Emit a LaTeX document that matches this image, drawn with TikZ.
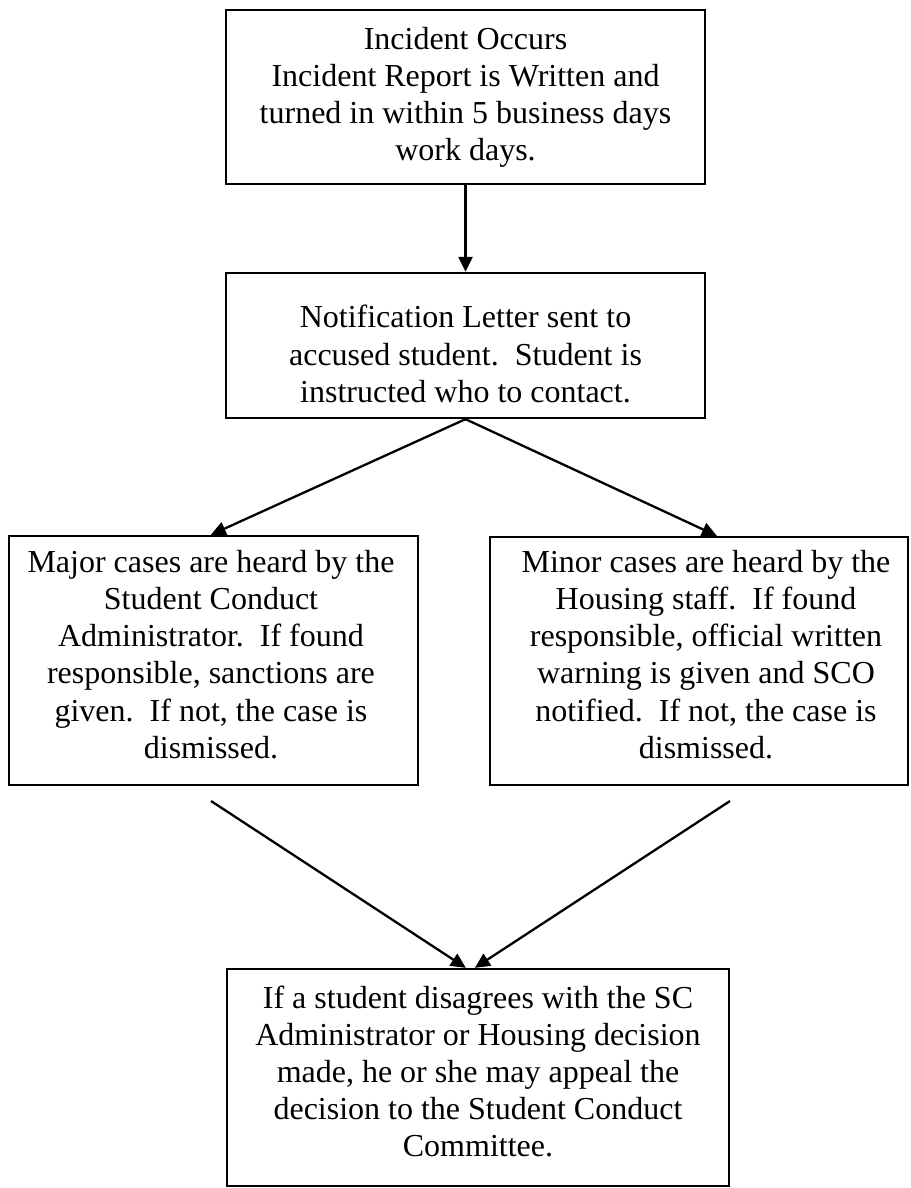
\documentclass[tikz,border=0pt]{standalone}
\usepackage{fontspec}
\setmainfont{Liberation Serif}
\usetikzlibrary{arrows.meta}
\frenchspacing
\begin{document}
\begin{tikzpicture}[x=1pt,y=-1pt,
  boxnode/.style={draw,line width=2.3pt,inner sep=0pt,rectangle},
  txt/.style={align=center,font=\fontsize{32}{37.2}\selectfont,inner sep=0pt},
  conn/.style={line width=2.3pt,-{Triangle[length=15pt,width=14pt]}}]
\useasboundingbox (0,0) rectangle (910,1188);
% boxes
\node[boxnode,minimum width=479pt,minimum height=174pt] (b1) at (465.5,97) {};
\node[boxnode,minimum width=479pt,minimum height=145pt] (b2) at (465.5,345.5) {};
\node[boxnode,minimum width=409pt,minimum height=249pt] (b3) at (213.5,660.5) {};
\node[boxnode,minimum width=418pt,minimum height=248pt] (b4) at (699,661) {};
\node[boxnode,minimum width=502pt,minimum height=217pt] (b5) at (478,1077.5) {};
% texts
\node[txt] (t1) at (465.5,97.5) {Incident Occurs\\Incident Report is Written and\\turned in within 5 business days\\work days.};
\node[txt] (t2) at (465.5,354) {Notification Letter sent to\\accused student.\ \ Student is\\instructed who to contact.};
\node[txt] (t3) at (211,654.5) {Major cases are heard by the\\Student Conduct\\Administrator.\ \ If found\\responsible, sanctions are\\given.\ \ If not, the case is\\dismissed.};
\node[txt] (t4) at (706,654.5) {Minor cases are heard by the\\Housing staff.\ \ If found\\responsible, official written\\warning is given and SCO\\notified.\ \ If not, the case is\\dismissed.};
\node[txt] (t5) at (478,1071.5) {If a student disagrees with the SC\\Administrator or Housing decision\\made, he or she may appeal the\\decision to the Student Conduct\\Committee.};
% connectors
\draw[conn] (b1.south) -- (b2.north);
\draw[conn] (b2.south) -- ([xshift=203pt]b3.north west);
\draw[conn] (b2.south) -- ([xshift=228pt]b4.north west);
\coordinate (s3) at (211,801);
\coordinate (s4) at (730,801);
\draw[conn] (s3) -- ([xshift=240pt]b5.north west);
\draw[conn] (s4) -- ([xshift=249pt]b5.north west);
\end{tikzpicture}
\end{document}
